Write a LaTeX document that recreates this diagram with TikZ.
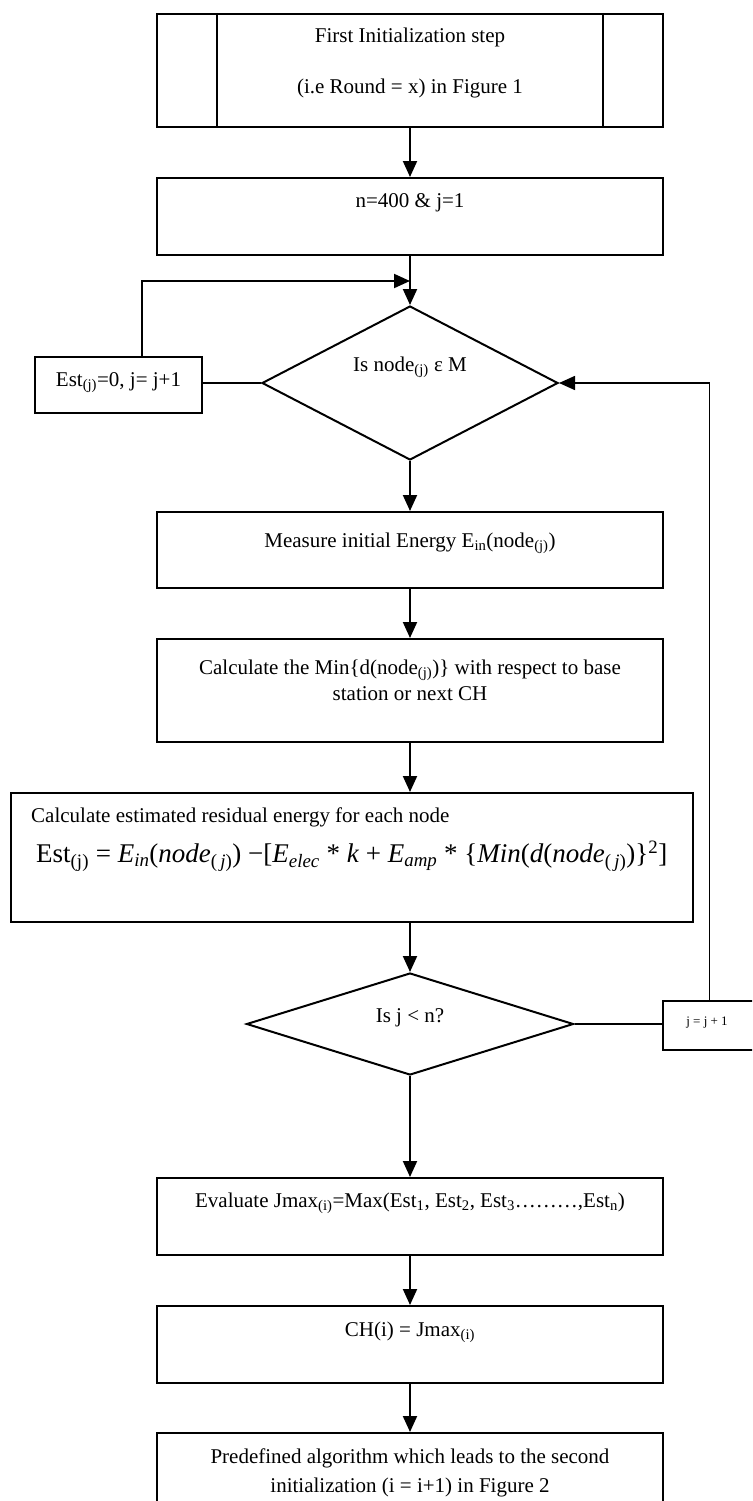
\documentclass[tikz,border=0pt]{standalone}
\usepackage{fontspec}
\setmainfont{Liberation Serif}
\usetikzlibrary{arrows.meta,shapes.geometric}
\begin{document}
\begin{tikzpicture}[x=1pt,y=-1pt,
  box/.style={draw,line width=2pt,inner sep=0pt},
  dia/.style={draw,diamond,line width=2pt,inner sep=0pt},
  txt/.style={inner sep=0pt,font=\fontsize{21}{24}\selectfont},
  conn/.style={line width=2pt,-{Triangle[length=16pt,width=14pt]}},
  plain/.style={line width=1.4pt}]
\useasboundingbox (0,0) rectangle (752,1501);
\fill[white] (0,0) rectangle (752,1501);
\clip (0,0) rectangle (752,1501);

% boxes
\node[box,minimum width=506pt,minimum height=113pt] (init) at (410,70.5) {};
\draw[line width=2pt] ([xshift=61pt]init.north west) -- ([xshift=61pt]init.south west);
\draw[line width=2pt] ([xshift=-61pt]init.north east) -- ([xshift=-61pt]init.south east);
\node[txt] (initA) at (410,37) {First Initialization step};
\node[txt] (initB) at (410,88) {(i.e Round = x) in Figure 1};

\node[box,minimum width=506pt,minimum height=77pt] (nj) at (410,216.5) {};
\node[txt] (njt) at (410,203) {n=400 \& j=1};

\node[dia,minimum width=296pt,minimum height=154pt] (d1) at (410,383) {};
\node[txt] (d1t) at (410,367) {Is node\textsubscript{(j)} ε M};

\node[box,minimum width=167pt,minimum height=56pt] (est) at (118.5,384.5) {};
\node[txt] (estt) at (118.5,383) {Est\textsubscript{(j)}=0, j= j+1};

\node[box,minimum width=506pt,minimum height=76pt] (meas) at (410,550) {};
\node[txt] (meast) at (410,543) {Measure initial Energy E\textsubscript{in}(node\textsubscript{(j)})};

\node[box,minimum width=506pt,minimum height=103pt] (calc) at (410,690.5) {};
\node[txt] (calcA) at (410,670) {Calculate the Min\{d(node\textsubscript{(j)})\} with respect to base};
\node[txt] (calcB) at (410,694) {station or next CH};

\node[box,minimum width=682pt,minimum height=129pt] (res) at (352,857.5) {};
\node[txt,anchor=west] (resA) at (31,817) {Calculate estimated residual energy for each node};
\node[inner sep=0pt,anchor=west,font=\fontsize{27}{30}\selectfont] (resB) at (36,856)
  {Est\textsubscript{(j)} = \textit{E}\textsubscript{\textit{in}}(\textit{node}\textsubscript{(\,\textit{j})}) −[\textit{E}\textsubscript{\textit{elec}} * \textit{k} + \textit{E}\textsubscript{\textit{amp}} * \{\textit{Min}(\textit{d}(\textit{node}\textsubscript{(\,\textit{j})})\}\textsuperscript{2}]};

\node[dia,minimum width=327pt,minimum height=102pt] (d2) at (410,1024) {};
\node[txt] (d2t) at (410,1018) {Is j < n?};

\node[box,minimum width=93pt,minimum height=49pt] (jb) at (709.5,1025.5) {};
\node[inner sep=0pt,font=\fontsize{13}{15}\selectfont] (jbt) at (707,1023) {j = j + 1};

\node[box,minimum width=506pt,minimum height=77pt] (eval) at (410,1216.5) {};
\node[txt] (evalt) at (410,1203) {Evaluate Jmax\textsubscript{(i)}=Max(Est\textsubscript{1}, Est\textsubscript{2}, Est\textsubscript{3}………,Est\textsubscript{n})};

\node[box,minimum width=506pt,minimum height=77pt] (ch) at (410,1344.5) {};
\node[txt] (cht) at (410,1332) {CH(i) = Jmax\textsubscript{(i)}};

\node[box,minimum width=506pt,minimum height=100pt] (pre) at (410,1483) {};
\node[txt] (preA) at (410,1458) {Predefined algorithm which leads to the second};
\node[txt] (preB) at (410,1487) {initialization (i = i+1) in Figure 2};

% connectors
\coordinate (fb) at (410,281);
\draw[conn] (init.south) -- (nj.north);
\draw[conn] (nj.south) -- (d1.north);
\draw[conn] ([xshift=23.5pt]est.north) |- (fb);
\draw[plain] (d1.west -| est.east) -- (d1.west);
\draw[conn] (d1.south) -- (meas.north);
\draw[conn] (meas.south) -- (calc.north);
\draw[conn] (calc.south) -- (calc.south |- res.north);
\draw[conn] (d2.north |- res.south) -- (d2.north);
\draw[plain] (d2.east) -- (d2.east -| jb.west);
\draw[conn,line width=1.6pt] (jb.north) |- (d1.east);
\draw[conn] (d2.south) -- (eval.north);
\draw[conn] (eval.south) -- (ch.north);
\draw[conn] (ch.south) -- (pre.north);
\end{tikzpicture}
\end{document}
